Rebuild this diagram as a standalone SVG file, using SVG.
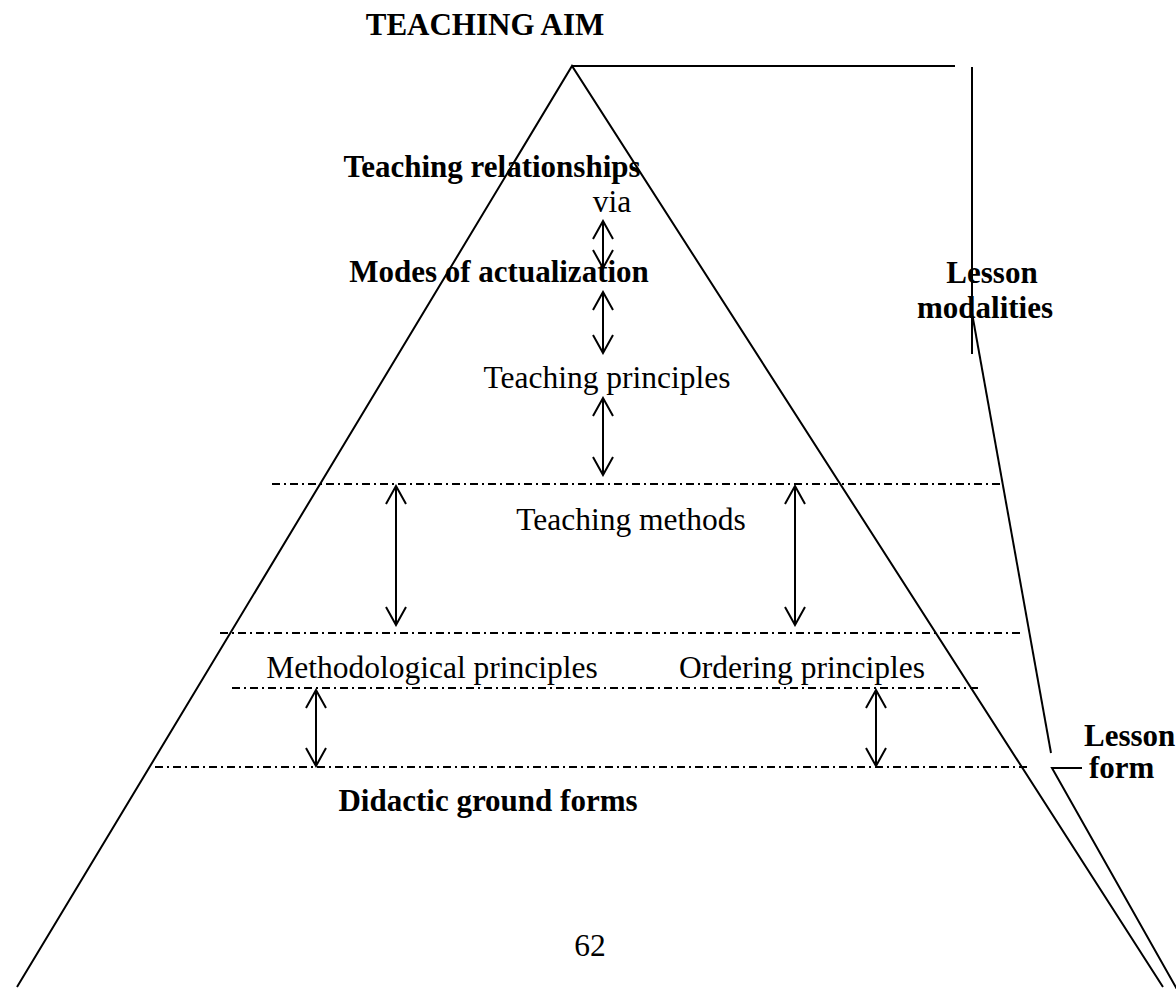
<svg xmlns="http://www.w3.org/2000/svg" width="1176" height="989" viewBox="0 0 1176 989">
<style>
text{font-family:"Liberation Serif","Times New Roman",serif;fill:#000;text-anchor:middle}
.b{font-weight:bold;font-size:31px}
.r{font-size:31.5px}
.s{text-anchor:start}
.ln{stroke:#000;stroke-width:2;fill:none}
.dd{stroke:#000;stroke-width:2;fill:none;stroke-dasharray:8 4 2 4}
.ar{stroke:#000;stroke-width:2;fill:none;marker-start:url(#ah);marker-end:url(#ah)}
</style>
<defs>
<marker id="ah" markerUnits="userSpaceOnUse" viewBox="-20 -12 22 24" refX="0" refY="0" markerWidth="22" markerHeight="24" orient="auto-start-reverse">
<path d="M-18,-10 L0,0 L-18,10" stroke="#000" stroke-width="2" fill="none"/>
</marker>
</defs>
<g id="frame">
<path class="ln" d="M17,987 L572,66 L1163,987"/>
<path class="ln" d="M572,66 L955,66"/>
<path class="ln" d="M972,67 L972,354"/>
<path class="ln" d="M972,313 L1051,753"/>
<path class="ln" d="M1082,768 L1052,768 L1178,991"/>
</g>
<g id="levels">
<line class="dd" x1="272" y1="484" x2="1000" y2="484"/>
<line class="dd" x1="220" y1="633" x2="1020" y2="633"/>
<line class="dd" x1="232" y1="688" x2="980" y2="688"/>
<line class="dd" x1="155" y1="767" x2="1030" y2="767"/>
</g>
<g id="connectors">
<line class="ar" x1="603" y1="221" x2="603" y2="268"/>
<line class="ar" x1="603" y1="292" x2="603" y2="353"/>
<line class="ar" x1="603" y1="398" x2="603" y2="475"/>
<line class="ar" x1="396" y1="486" x2="396" y2="625"/>
<line class="ar" x1="795" y1="486" x2="795" y2="625"/>
<line class="ar" x1="316" y1="690" x2="316" y2="766"/>
<line class="ar" x1="876" y1="690" x2="876" y2="766"/>
</g>
<g id="teaching-aim"><text class="b" x="485" y="35">TEACHING AIM</text></g>
<g id="teaching-relationships"><text class="b" x="492" y="177">Teaching relationships</text></g>
<g id="via"><text class="r" x="612" y="212">via</text></g>
<g id="modes"><text class="b" x="499" y="282">Modes of actualization</text></g>
<g id="teaching-principles"><text class="r" x="607" y="388">Teaching principles</text></g>
<g id="teaching-methods"><text class="r" x="631" y="530">Teaching methods</text></g>
<g id="methodological-principles"><text class="r" x="432" y="678">Methodological principles</text></g>
<g id="ordering-principles"><text class="r" x="802" y="678">Ordering principles</text></g>
<g id="didactic-ground-forms"><text class="b" x="488" y="811">Didactic ground forms</text></g>
<g id="lesson-modalities"><text class="b" x="992" y="283">Lesson</text><text class="b" x="985" y="318">modalities</text></g>
<g id="lesson-form"><text class="b s" x="1084" y="746">Lesson</text><text class="b s" x="1089" y="778">form</text></g>
<g id="page"><text class="r" x="590" y="956">62</text></g>
</svg>
